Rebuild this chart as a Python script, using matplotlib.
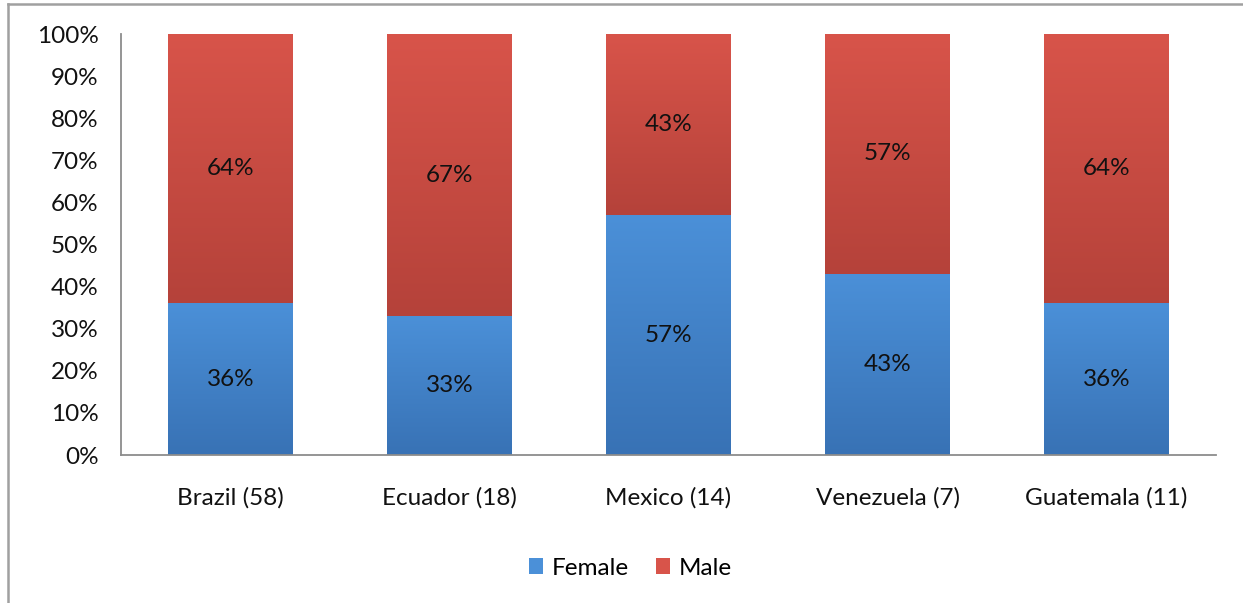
import numpy as np
import matplotlib.pyplot as plt
from matplotlib.colors import LinearSegmentedColormap
from matplotlib.patches import Rectangle
from matplotlib.lines import Line2D

plt.rcParams['font.family'] = ['Lato', 'DejaVu Sans']

categories = ["Brazil (58)", "Ecuador (18)", "Mexico (14)", "Venezuela (7)", "Guatemala (11)"]
female = [36, 33, 57, 43, 36]
male = [64, 67, 43, 57, 64]
series_names = ["Female", "Male"]
y_ticks = [0, 10, 20, 30, 40, 50, 60, 70, 80, 90, 100]

# light top -> dark bottom for each segment
blue_top, blue_bottom = "#4b90d8", "#3872b5"
red_top, red_bottom = "#d8544a", "#b5423a"
text_color = "#111111"

fig = plt.figure(figsize=(12.43, 6.03), dpi=100)
fig.patch.set_facecolor("white")
ax = fig.add_axes([0.0973, 0.2454, 0.881, 0.6982])

x = np.arange(len(categories))
width = 0.57
bars_f = ax.bar(x, female, width, color="none", edgecolor="none")
bars_m = ax.bar(x, male, width, bottom=female, color="none", edgecolor="none")

grad = np.linspace(0, 1, 256).reshape(-1, 1)


def fill_gradient(patches, top, bottom):
    cmap = LinearSegmentedColormap.from_list("g", [bottom, top])
    for p in patches:
        x0, y0 = p.get_x(), p.get_y()
        w, h = p.get_width(), p.get_height()
        ax.imshow(grad, cmap=cmap, origin="lower", aspect="auto",
                  extent=(x0, x0 + w, y0, y0 + h), zorder=2, interpolation="bilinear")


fill_gradient(bars_f, blue_top, blue_bottom)
fill_gradient(bars_m, red_top, red_bottom)

for i in range(len(categories)):
    ax.text(x[i], female[i] / 2, f"{female[i]}%", ha="center", va="center",
            fontsize=17.5, color=text_color, zorder=3)
    ax.text(x[i], female[i] + male[i] / 2, f"{male[i]}%", ha="center", va="center",
            fontsize=17.5, color=text_color, zorder=3)

ax.set_xlim(-0.5, len(categories) - 0.5)
ax.set_ylim(0, 100)
ax.set_yticks(y_ticks)
ax.set_yticklabels([f"{v}%" for v in y_ticks])
ax.set_xticks(x)
ax.set_xticklabels(categories)
ax.tick_params(axis="y", length=0, pad=16, labelsize=17.5, labelcolor=text_color)
ax.tick_params(axis="x", length=0, pad=23, labelsize=17.5, labelcolor=text_color)
for s in ["top", "right"]:
    ax.spines[s].set_visible(False)
for s in ["left", "bottom"]:
    ax.spines[s].set_color("#8c8c8c")
    ax.spines[s].set_linewidth(1.3)

handles = [Rectangle((0, 0), 1, 1, facecolor=blue_top), Rectangle((0, 0), 1, 1, facecolor=red_top)]
fig.legend(handles, series_names, loc="center", bbox_to_anchor=(0.507, 0.058), ncol=2,
           frameon=False, fontsize=17.5, handlelength=0.6, handleheight=0.6,
           handletextpad=0.35, columnspacing=1.1)

# outer chart frame
fig.add_artist(Line2D([8 / 1243, 8 / 1243], [0, 1 - 4 / 603], transform=fig.transFigure,
                      color="#a0a0a0", linewidth=1.8))
fig.add_artist(Line2D([8 / 1243, 1], [1 - 4 / 603, 1 - 4 / 603], transform=fig.transFigure,
                      color="#a0a0a0", linewidth=1.8))

fig.savefig("out.png", dpi=100, facecolor="white")
